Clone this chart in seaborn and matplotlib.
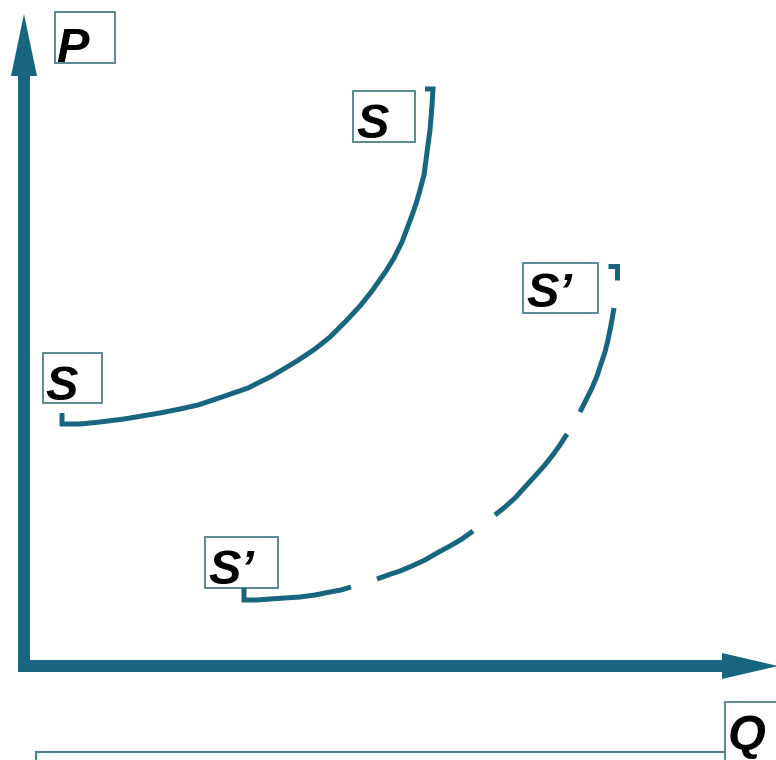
import matplotlib
matplotlib.use("Agg")
import matplotlib.pyplot as plt
import matplotlib.patches as patches
import pandas as pd
import seaborn as sns

# colours
TEAL = '#17657f'
BOX_EDGE = '#4f7f8a'

# curve S (solid), points in pixel units (y goes down)
s_x = [62, 62, 80, 100, 124, 142, 160, 180, 198, 222, 248, 272, 297, 315, 330,
       347, 360, 372, 386, 394, 402, 411, 416, 420, 424, 426, 428, 430, 431, 432,
       433, 425]
s_y = [413, 424, 424, 422, 419, 416, 413, 409, 405, 397, 388, 376, 361, 349, 337,
       320, 306, 291, 271, 258, 242, 218, 204, 190, 175, 160, 145, 130, 118, 105,
       89, 89]

# curve S' (dashed), one id per dash
s2_dash = [1] * 10 + [2] * 9 + [3] * 9 + [4] * 9 + [5] * 3
s2_x = [244, 244, 257, 270, 285, 300, 315, 330, 341, 351,
        377, 388, 400, 412, 425, 437, 450, 462, 473,
        495, 505, 515, 525, 535, 544, 552, 560, 567,
        580, 586, 592, 597, 601, 605, 608, 611, 614,
        617, 617, 608]
s2_y = [588, 600, 600, 599, 598, 597, 595, 592, 590, 587,
        579, 575, 571, 566, 560, 553, 546, 539, 531,
        515, 507, 498, 487, 476, 466, 456, 445, 434,
        412, 400, 388, 376, 364, 352, 340, 325, 308,
        280, 266, 266]

# labels: text, text origin (x, baseline) and box (x0, y0, x1, y1)
label_text = ['P', 'S', 'S', 'S\u2019', 'S\u2019', 'Q']
label_pos = [(56, 62), (356, 138), (45, 400), (526, 307), (208, 584), (728, 749)]
label_box = [(55, 12, 115, 63), (353, 91, 415, 142), (43, 353, 102, 403),
             (523, 263, 598, 313), (205, 537, 278, 588), (725, 702, 790, 770)]

sns.set_theme(style='white')
plt.rcParams['font.family'] = ['Liberation Sans', 'DejaVu Sans']

fig = plt.figure(figsize=(7.76, 7.60), dpi=100)
ax = fig.add_axes([0, 0, 1, 1])

# axes with arrows
ax.plot([24, 24], [76, 672], color=TEAL, lw=8.6, solid_capstyle='butt')
ax.plot([18, 724], [666, 666], color=TEAL, lw=8.6, solid_capstyle='butt')
ax.fill([24, 11, 37], [14, 76, 76], color=TEAL, lw=0)
ax.fill([778, 722, 722], [666, 653, 679], color=TEAL, lw=0)

# supply curves
s_df = pd.DataFrame({'x': s_x, 'y': s_y, 'part': 1})
sns.lineplot(data=s_df, x='x', y='y', units='part', estimator=None, sort=False,
             color=TEAL, lw=3.6, legend=False, ax=ax)
s2_df = pd.DataFrame({'x': s2_x, 'y': s2_y, 'part': s2_dash})
sns.lineplot(data=s2_df, x='x', y='y', units='part', estimator=None, sort=False,
             color=TEAL, lw=3.6, legend=False, ax=ax)
for line in ax.lines[2:]:
    line.set_solid_joinstyle('miter')
    line.set_solid_capstyle('butt')

ax.set_xlim(0, 776)
ax.set_ylim(760, 0)
ax.set_xlabel('')
ax.set_ylabel('')
ax.axis('off')

# bottom text box
ax.add_patch(patches.Rectangle((36, 752), 731, 30, facecolor='#f7fcfd',
                               edgecolor=BOX_EDGE, lw=1.5, clip_on=False))

for txt, (tx, ty), (x0, y0, x1, y1) in zip(label_text, label_pos, label_box):
    ax.add_patch(patches.Rectangle((x0, y0), x1 - x0, y1 - y0, facecolor='white',
                                   edgecolor=BOX_EDGE, lw=1.3))
    ax.text(tx, ty, txt, fontsize=35, fontweight='bold', fontstyle='italic',
            color='black', ha='left', va='baseline')

fig.savefig('out.png', dpi=100)
